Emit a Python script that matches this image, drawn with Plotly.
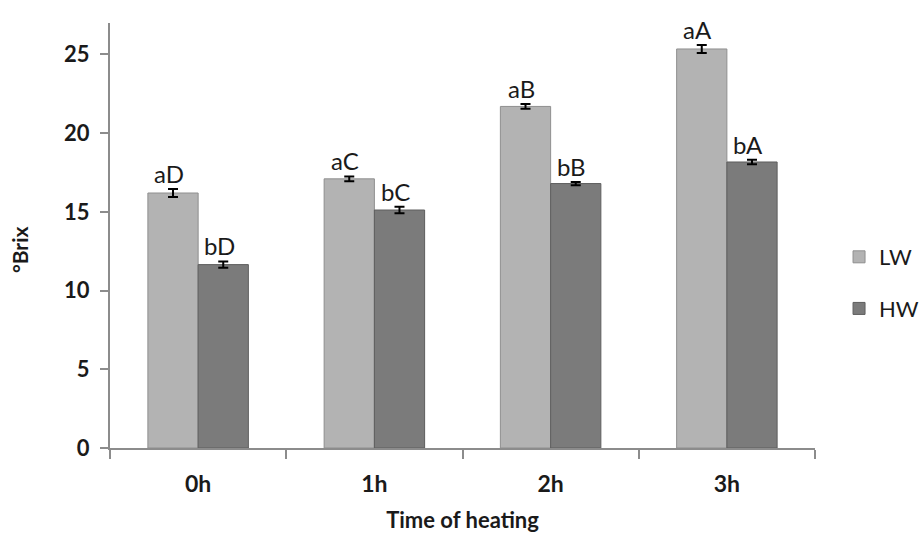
import plotly.graph_objects as go

categories = ["0h", "1h", "2h", "3h"]
lw_values = [16.2, 17.1, 21.7, 25.35]
lw_err = [0.25, 0.15, 0.15, 0.25]
hw_values = [11.65, 15.12, 16.8, 18.17]
hw_err = [0.2, 0.2, 0.1, 0.15]
lw_labels = ["aD", "aC", "aB", "aA"]
hw_labels = ["bD", "bC", "bB", "bA"]

FONT = "Lato, Open Sans, sans-serif"
bargap = 0.43
half = (1 - bargap) / 4

fig = go.Figure()
fig.add_trace(go.Bar(
    name="LW", x=categories, y=lw_values, legendgroup="lw",
    marker=dict(color="#b3b3b3", line=dict(color="#8f8f8f", width=1)),
    error_y=dict(type="data", array=lw_err, color="black", thickness=2, width=5),
))
fig.add_trace(go.Bar(
    name="HW", x=categories, y=hw_values, legendgroup="hw",
    marker=dict(color="#7b7b7b", line=dict(color="#5e5e5e", width=1)),
    error_y=dict(type="data", array=hw_err, color="black", thickness=2, width=5),
))

for i, (v, e, t) in enumerate(zip(lw_values, lw_err, lw_labels)):
    fig.add_annotation(x=i - half, y=v + e, text=t, showarrow=False, yanchor="bottom",
                       xshift=-4, yshift=-1, font=dict(family=FONT, size=24, color="#1a1a1a"))
for i, (v, e, t) in enumerate(zip(hw_values, hw_err, hw_labels)):
    fig.add_annotation(x=i + half, y=v + e, text=t, showarrow=False, yanchor="bottom",
                       xshift=-4, yshift=-1, font=dict(family=FONT, size=24, color="#1a1a1a"))

# y-axis title as annotation (sits slightly below plot centre in reference)
fig.add_annotation(xref="paper", yref="paper", x=0, y=0.5, xshift=-105, yshift=-14,
                   text="<b>°Brix</b>", textangle=-90, showarrow=False,
                   font=dict(family=FONT, size=21, color="#1a1a1a"))

fig.update_layout(
    width=920, height=533,
    margin=dict(l=110, r=105, t=23, b=85, autoexpand=False),
    plot_bgcolor="white", paper_bgcolor="white",
    barmode="group", bargap=bargap, bargroupgap=0,
    font=dict(family=FONT, color="#1a1a1a"),
    showlegend=True,
    legend=dict(xref="container", yref="container", x=0.912, y=0.469,
                xanchor="left", yanchor="middle",
                font=dict(family=FONT, size=22), tracegroupgap=20, itemwidth=30),
    xaxis=dict(
        showline=True, linecolor="#8c8c8c", linewidth=2,
        ticks="outside", tickson="boundaries", ticklen=9, tickcolor="#8c8c8c", tickwidth=2,
        ticklabelstandoff=14,
        tickfont=dict(family=FONT, size=23, color="#1a1a1a", weight="bold"),
        title=dict(text="<b>Time of heating</b>", font=dict(family=FONT, size=22), standoff=18),
    ),
    yaxis=dict(
        range=[0, 27], tickvals=[0, 5, 10, 15, 20, 25],
        showline=True, linecolor="#8c8c8c", linewidth=2, showgrid=False, zeroline=False,
        ticks="outside", ticklen=8, tickcolor="#8c8c8c", tickwidth=2,
        ticklabelstandoff=6,
        tickfont=dict(family=FONT, size=22, color="#1a1a1a", weight="bold"),
    ),
)

fig.write_html("out.html", config={"displayModeBar": False},
               post_script="document.body.style.margin='0px';document.body.style.overflow='hidden';")
